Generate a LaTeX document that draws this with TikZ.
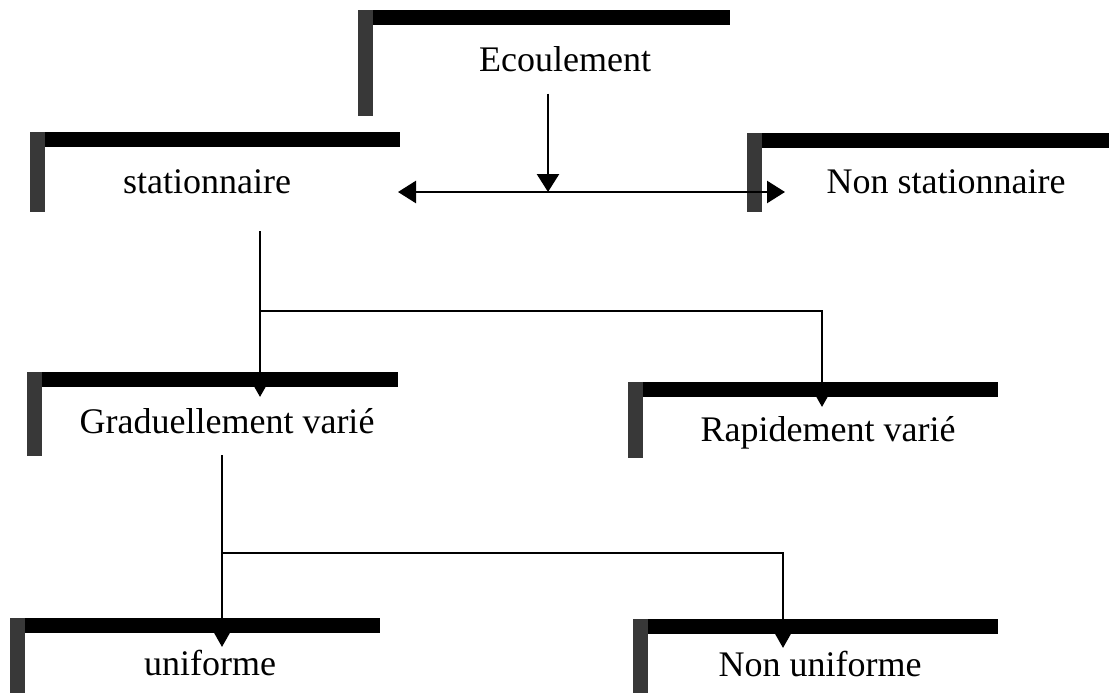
\documentclass[tikz,border=0pt]{standalone}
\usepackage{fontspec}
\setmainfont{Liberation Serif}
\usetikzlibrary{arrows.meta}

\tikzset{
    etiq/.style={font=\fontsize{36}{43}\selectfont, anchor=base, inner sep=0pt},
    trait/.style={line width=2.6pt},
    grande/.style={trait, -{Triangle[length=18pt,width=22pt]}},
    petite/.style={trait, -{Triangle[length=14pt,width=15pt]}}
}

\begin{document}
\begin{tikzpicture}[x=1pt,y=-1pt]

\useasboundingbox (0,0) rectangle (1109,693);

% cadres : gauche/droite/haut/bas
\foreach \g/\d/\h/\b in {358/730/10/116, 30/400/132/212, 747/1109/133/212,
                         27/398/372/456, 628/998/382/458,
                         10/380/618/693, 633/998/619/693}
{
    \fill (\g,\h) rectangle (\d,\h+15);
    \fill[black!78] (\g,\h) rectangle (\g+15,\b);
}

\node[etiq] (ecoul)   at (565,72)  {Ecoulement};
\node[etiq] (stat)    at (207,193) {stationnaire};
\node[etiq] (nonstat) at (946,193) {Non stationnaire};
\node[etiq] (grad)    at (227,433) {Graduellement varié};
\node[etiq] (rapid)   at (828,441) {Rapidement varié};
\node[etiq] (unif)    at (210,675) {uniforme};
\node[etiq] (nonunif) at (820,676) {Non uniforme};

% Ecoulement
\coordinate (split)  at (548,192);
\coordinate (gauche) at (398,192);
\coordinate (droite) at (785,192);
\draw[grande, shorten <=21pt] (ecoul.south -| split) -- (split);
\draw[grande] (split) -- (gauche);
\draw[grande] (split) -- (droite);

% stationnaire
\coordinate (n1)    at (260,311);
\coordinate (n1g)   at (260,397);
\coordinate (n1r)   at (822,407);
\draw[trait] ([yshift=-38pt]stat.base -| n1) -- (n1);
\draw[petite] (n1) -- (n1g);
\draw[petite] (n1) -| (n1r);

% graduellement varie
\coordinate (n2)    at (222,553);
\coordinate (n2u)   at (222,647);
\coordinate (n2n)   at (783,648);
\draw[trait] ([yshift=-22pt]grad.base -| n2) -- (n2);
\draw[petite] (n2) -- (n2u);
\draw[petite] (n2) -| (n2n);

\end{tikzpicture}
\end{document}
